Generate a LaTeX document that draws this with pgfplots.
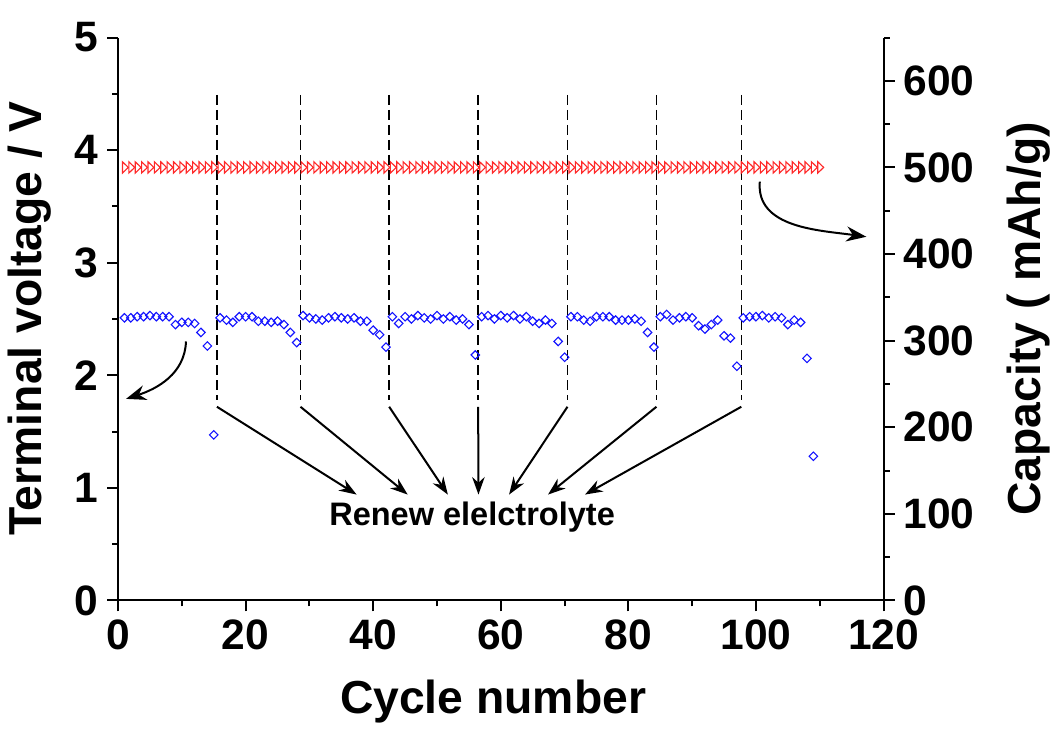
\documentclass[border=0pt]{standalone}
\usepackage{fontspec}
\setmainfont{Liberation Sans}
\usepackage{pgfplots}
\pgfplotsset{compat=1.18}
\usetikzlibrary{arrows.meta}

\definecolor{cVolt}{RGB}{20,20,255}
\definecolor{cCap}{RGB}{255,40,40}

\pgfplotsset{
  cellaxis/.style={
    scale only axis, width=306pt, height=225pt,
    xmin=0, xmax=120,
    tick align=outside,
    major tick length=4.4pt, minor tick length=2.4pt,
    every tick/.style={black, line width=0.8pt},
    axis line style={-, line width=0.8pt},
    /pgf/number format/assume math mode=true,
    tick label style={font=\fontsize{17}{17}\selectfont\bfseries},
    label style={font=\fontsize{18.5}{18.5}\selectfont\bfseries},
  }
}
\tikzset{
  renew/.style={black, line width=0.6pt, dash pattern=on 4pt off 2pt},
  pointer/.style={black, line width=0.8pt, -{Stealth[length=7pt,width=5pt]}},
}

\begin{document}
\begin{tikzpicture}
\begin{axis}[cellaxis, name=ax,
  axis x line*=bottom, axis y line*=left,
  ymin=0, ymax=5,
  xtick={0,20,...,120}, minor xtick={10,30,...,110},
  ytick={0,...,5}, minor ytick={0.5,1.5,...,4.5},
  xlabel={Cycle number}, ylabel={Terminal voltage / V},
  xlabel style={at={(axis description cs:0.49,-0.18)}, anchor=center},
  ylabel style={at={(axis description cs:-0.115,0.5)}, anchor=center},
]
\addplot[only marks, mark=square, mark size=1.2pt,
  mark options={rotate=45, draw=cVolt, line width=0.45pt}] coordinates {
  (1,2.51) (2,2.51) (3,2.52) (4,2.52) (5,2.53) (6,2.52) (7,2.52) (8,2.52)
  (9,2.45) (10,2.47) (11,2.47) (12,2.46) (13,2.38) (14,2.26) (15,1.47)
  (16,2.51) (17,2.49) (18,2.47) (19,2.52) (20,2.52) (21,2.52) (22,2.48)
  (23,2.48) (24,2.47) (25,2.48) (26,2.45) (27,2.38) (28,2.29)
  (29,2.53) (30,2.51) (31,2.50) (32,2.49) (33,2.51) (34,2.52) (35,2.51)
  (36,2.50) (37,2.51) (38,2.48) (39,2.48) (40,2.40) (41,2.36) (42,2.25)
  (43,2.52) (44,2.46) (45,2.52) (46,2.50) (47,2.53) (48,2.51) (49,2.50)
  (50,2.53) (51,2.50) (52,2.52) (53,2.49) (54,2.50) (55,2.45) (56,2.18)
  (57,2.52) (58,2.53) (59,2.50) (60,2.53) (61,2.51) (62,2.53) (63,2.50)
  (64,2.52) (65,2.48) (66,2.46) (67,2.49) (68,2.46) (69,2.30) (70,2.16)
  (71,2.52) (72,2.52) (73,2.49) (74,2.48) (75,2.52) (76,2.52) (77,2.52)
  (78,2.49) (79,2.49) (80,2.49) (81,2.50) (82,2.48) (83,2.38) (84,2.25)
  (85,2.52) (86,2.54) (87,2.49) (88,2.51) (89,2.52) (90,2.51) (91,2.44)
  (92,2.41) (93,2.45) (94,2.49) (95,2.35) (96,2.33) (97,2.08)
  (98,2.51) (99,2.52) (100,2.52) (101,2.53) (102,2.51) (103,2.52) (104,2.51)
  (105,2.45) (106,2.49) (107,2.47) (108,2.15) (109,1.28)
};
% electrolyte renewals
\draw[renew] (15.5,4.49) -- (15.5,1.78);
\draw[renew] (28.6,4.49) -- (28.6,1.78);
\draw[renew] (42.5,4.49) -- (42.5,1.78);
\draw[renew] (56.45,4.49) -- (56.45,1.78);
\draw[renew] (70.45,4.49) -- (70.45,1.78);
\draw[renew] (84.4,4.49) -- (84.4,1.78);
\draw[renew] (97.7,4.49) -- (97.7,1.78);
\draw[pointer] (15.5,1.72) -- (37.4,0.94);
\draw[pointer] (28.6,1.72) -- (45.4,0.94);
\draw[pointer] (42.5,1.72) -- (51.7,0.94);
\draw[pointer] (56.45,1.72) -- (56.5,0.94);
\draw[pointer] (70.45,1.72) -- (61.3,0.94);
\draw[pointer] (84.4,1.72) -- (67.4,0.94);
\draw[pointer] (97.7,1.72) -- (73.2,0.94);
\node[font=\fontsize{13}{13}\selectfont\bfseries] at (55.5,0.74) {Renew elelctrolyte};
\draw[black, line width=0.8pt, -{Stealth[length=8pt,width=6pt]}]
  (10.65,2.30) to[out=-92, in=18] (1.25,1.79);
\draw[black, line width=0.8pt, -{Stealth[length=8pt,width=6pt]}]
  (100.6,3.72) to[out=-95, in=172] (117.3,3.23);
\end{axis}

\begin{axis}[cellaxis,
  axis x line=none, axis y line*=right,
  ymin=0, ymax=650,
  ytick={0,100,...,600}, minor ytick={50,150,...,650},
  ylabel={Capacity ( mAh/g)},
  ylabel style={at={(axis description cs:1.19,0.5)}, anchor=center},
]
\addplot[only marks, mark=triangle, mark size=2.6pt,
  mark options={rotate=-90, yscale=0.6, draw=cCap, line width=0.45pt}] coordinates {
  (1,500) (2,500) (3,500) (4,500) (5,500) (6,500) (7,500) (8,500) (9,500) (10,500)
  (11,500) (12,500) (13,500) (14,500) (15,500) (16,500) (17,500) (18,500) (19,500) (20,500)
  (21,500) (22,500) (23,500) (24,500) (25,500) (26,500) (27,500) (28,500) (29,500) (30,500)
  (31,500) (32,500) (33,500) (34,500) (35,500) (36,500) (37,500) (38,500) (39,500) (40,500)
  (41,500) (42,500) (43,500) (44,500) (45,500) (46,500) (47,500) (48,500) (49,500) (50,500)
  (51,500) (52,500) (53,500) (54,500) (55,500) (56,500) (57,500) (58,500) (59,500) (60,500)
  (61,500) (62,500) (63,500) (64,500) (65,500) (66,500) (67,500) (68,500) (69,500) (70,500)
  (71,500) (72,500) (73,500) (74,500) (75,500) (76,500) (77,500) (78,500) (79,500) (80,500)
  (81,500) (82,500) (83,500) (84,500) (85,500) (86,500) (87,500) (88,500) (89,500) (90,500)
  (91,500) (92,500) (93,500) (94,500) (95,500) (96,500) (97,500) (98,500) (99,500) (100,500)
  (101,500) (102,500) (103,500) (104,500) (105,500) (106,500) (107,500) (108,500) (109,500) (110,500)
};
\end{axis}
% top margin as in the reference
\path (ax.north west) ++(0,15pt) coordinate (topmargin);
\end{tikzpicture}
\end{document}
